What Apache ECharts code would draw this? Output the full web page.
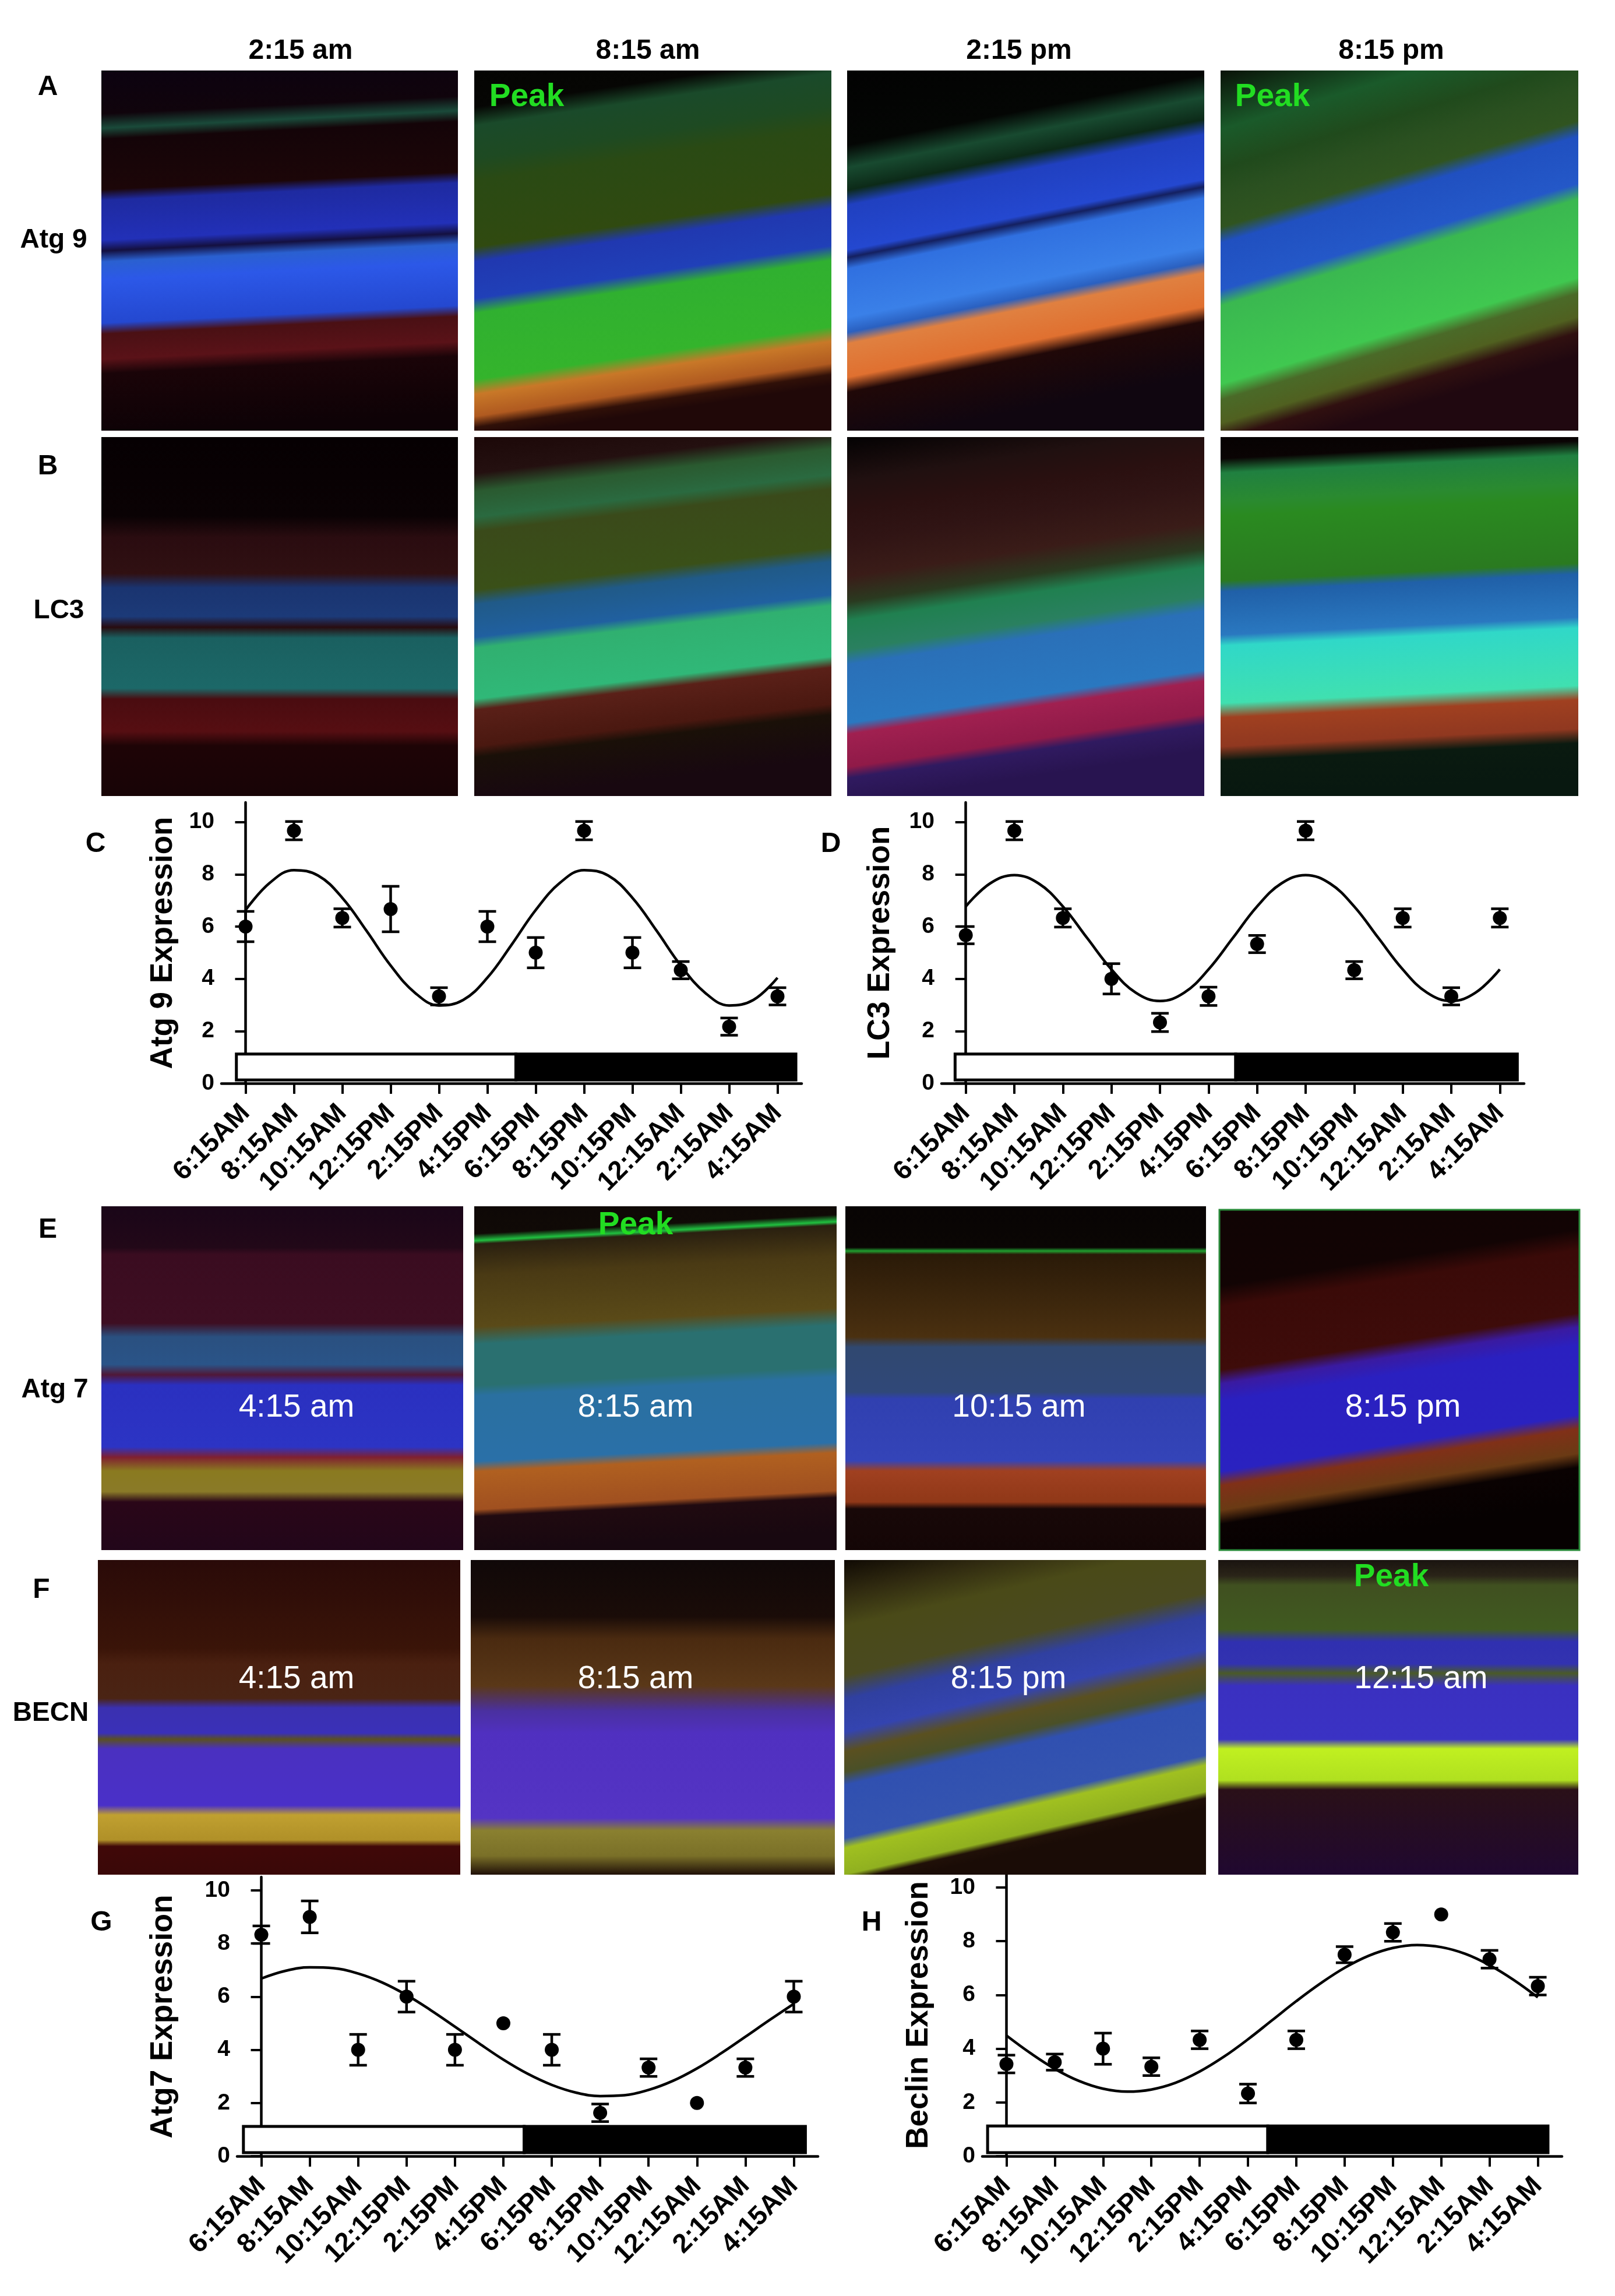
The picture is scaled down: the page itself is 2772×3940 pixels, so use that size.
<!DOCTYPE html>
<html>
<head>
<meta charset="utf-8">
<script src="https://cdn.jsdelivr.net/npm/echarts@6/dist/echarts.min.js"></script>
<style>
html,body{margin:0;padding:0;background:#ffffff;}
#main{width:2772px;height:3940px;}
</style>
</head>
<body>
<div id="main"></div>
<script>
// ---------------- DATA ----------------
const categories = ['6:15AM','8:15AM','10:15AM','12:15PM','2:15PM','4:15PM','6:15PM','8:15PM','10:15PM','12:15AM','2:15AM','4:15AM'];
const yTicks = [0, 2, 4, 6, 8, 10];
// positions (in category-index units) where the fitted curve was read
const curveX = [0,0.5,1,1.5,2,2.5,3,3.5,4,4.5,5,5.5,6,6.5,7,7.5,8,8.5,9,9.5,10,10.5,11];

// C: Atg 9
const atg9Mean  = [6.0, 9.67, 6.33, 6.67, 3.33, 6.0, 5.0, 9.67, 5.0, 4.33, 2.17, 3.33];
const atg9Err   = [0.58, 0.35, 0.35, 0.87, 0.33, 0.58, 0.58, 0.35, 0.58, 0.33, 0.33, 0.33];
const atg9Curve = [6.63,7.67,8.16,7.95,7.10,5.84,4.51,3.47,2.98,3.19,4.04,5.30,6.63,7.67,8.16,7.95,7.10,5.84,4.51,3.47,2.98,3.19,4.04];

// D: LC3
const lc3Mean  = [5.67, 9.67, 6.33, 4.0, 2.33, 3.33, 5.33, 9.67, 4.33, 6.33, 3.33, 6.33];
const lc3Err   = [0.33, 0.35, 0.35, 0.58, 0.35, 0.35, 0.33, 0.35, 0.33, 0.35, 0.33, 0.35];
const lc3Curve = [6.77,7.65,7.97,7.65,6.77,5.56,4.36,3.47,3.15,3.47,4.36,5.56,6.77,7.65,7.97,7.65,6.77,5.56,4.36,3.47,3.15,3.47,4.36];

// G: Atg7
const atg7Mean  = [8.33, 9.0, 4.0, 6.0, 4.0, 5.0, 4.0, 1.63, 3.33, 2.0, 3.33, 6.0];
const atg7Err   = [0.33, 0.6, 0.58, 0.58, 0.58, 0, 0.58, 0.33, 0.33, 0, 0.33, 0.58];
const atg7Curve = [6.68,6.97,7.10,7.07,6.87,6.53,6.06,5.49,4.87,4.24,3.63,3.10,2.68,2.39,2.26,2.29,2.49,2.83,3.30,3.87,4.49,5.12,5.73];

// H: Beclin
const beclinMean  = [3.43, 3.5, 4.0, 3.33, 4.33, 2.33, 4.33, 7.5, 8.33, 9.0, 7.33, 6.33];
const beclinErr   = [0.33, 0.3, 0.58, 0.33, 0.33, 0.35, 0.33, 0.3, 0.33, 0, 0.33, 0.33];
const beclinCurve = [4.49,3.83,3.25,2.80,2.51,2.40,2.48,2.73,3.15,3.70,4.35,5.06,5.77,6.43,7.01,7.46,7.75,7.86,7.78,7.53,7.11,6.56,5.91];

// light / dark periods, in category-index units: [start, end]
const atg9Phases   = [[-0.19, 5.59], [5.59, 11.38]];
const lc3Phases    = [[-0.22, 5.56], [5.56, 11.36]];
const atg7Phases   = [[-0.37, 5.43], [5.43, 11.24]];
const beclinPhases = [[-0.39, 5.41], [5.41, 11.21]];
const barLevels = [0.13, 1.12];

// text content
const columnTimes = ['2:15 am', '8:15 am', '2:15 pm', '8:15 pm'];
const rowEtimes = ['4:15 am', '8:15 am', '10:15 am', '8:15 pm'];
const rowFtimes = ['4:15 am', '8:15 am', '8:15 pm', '12:15 am'];

// ---------------- LAYOUT / STYLE ----------------
const FONT = '"Liberation Sans", Arial, Helvetica, sans-serif';

const chartLayouts = [
  {grid:{left:380, top:1377, width:996, height:482}, max:10.75, name:'Atg 9 Expression', gap:73, mean:atg9Mean, err:atg9Err, curve:atg9Curve, phases:atg9Phases},
  {grid:{left:1616, top:1377, width:1000, height:482}, max:10.75, name:'LC3 Expression', gap:78, mean:lc3Mean, err:lc3Err, curve:lc3Curve, phases:lc3Phases},
  {grid:{left:407, top:3221, width:997, height:479}, max:10.5, name:'Atg7 Expression', gap:100, mean:atg7Mean, err:atg7Err, curve:atg7Curve, phases:atg7Phases},
  {grid:{left:1686, top:3216, width:995, height:484}, max:10.5, name:'Beclin Expression', gap:82, mean:beclinMean, err:beclinErr, curve:beclinCurve, phases:beclinPhases}
];

function lg(tilt, stops){
  return {type:'linear', x:0, y:0, x2:tilt, y2:1, global:false,
    colorStops: stops.map(s => ({offset:s[0], color:s[1]}))};
}

const panels = [
  // Row A
  {x:174, y:121, w:612, h:618, tilt:0.05, stops:[[0,'#0c0210'],[0.12,'#10040c'],[0.16,'#1a4a3a'],[0.19,'#140408'],[0.33,'#1c0608'],[0.36,'#1e2aa0'],[0.47,'#2230b8'],[0.5,'#141040'],[0.53,'#2a60d0'],[0.58,'#2c58e8'],[0.7,'#2448d0'],[0.73,'#4a1014'],[0.8,'#5a1218'],[0.84,'#1a0408'],[1,'#0e0206']]},
  {x:814, y:121, w:613, h:618, tilt:0.15, stops:[[0,'#040402'],[0.1,'#060604'],[0.15,'#1a4a2a'],[0.24,'#1e4a22'],[0.3,'#2a4a14'],[0.48,'#304a10'],[0.52,'#2038b0'],[0.62,'#2040b8'],[0.66,'#30b030'],[0.84,'#34b42c'],[0.88,'#c87828'],[0.94,'#b05a20'],[0.97,'#301008'],[1,'#200808']]},
  {x:1454, y:121, w:613, h:618, tilt:0.2, stops:[[0,'#020202'],[0.2,'#040604'],[0.26,'#184a30'],[0.32,'#0c2a18'],[0.36,'#2040c0'],[0.48,'#2448d0'],[0.5,'#142060'],[0.53,'#3070e0'],[0.66,'#3a80e8'],[0.7,'#2a60c0'],[0.73,'#e08040'],[0.82,'#e07030'],[0.86,'#200808'],[1,'#100610']]},
  {x:2095, y:121, w:614, h:618, tilt:0.3, stops:[[0,'#0a1208'],[0.15,'#1a5a2a'],[0.25,'#204a1c'],[0.32,'#2a5020'],[0.4,'#305420'],[0.44,'#2050c0'],[0.56,'#2458c8'],[0.6,'#3ab850'],[0.8,'#40c850'],[0.84,'#4a6a28'],[0.9,'#506020'],[0.94,'#301010'],[1,'#200810']]},
  // Row B
  {x:174, y:750, w:612, h:616, tilt:0, stops:[[0,'#060002'],[0.22,'#0a0204'],[0.28,'#2a0c10'],[0.38,'#301012'],[0.42,'#1a3470'],[0.5,'#1c3a78'],[0.53,'#280c10'],[0.56,'#1a6060'],[0.7,'#1c6868'],[0.73,'#4a0c10'],[0.82,'#560e12'],[0.86,'#1e0406'],[1,'#180406']]},
  {x:814, y:750, w:613, h:616, tilt:0.12, stops:[[0,'#1c0808'],[0.1,'#241010'],[0.15,'#2a5a30'],[0.22,'#2a6a40'],[0.26,'#3a4a1a'],[0.42,'#3a5018'],[0.46,'#205a88'],[0.55,'#2060a0'],[0.58,'#30b070'],[0.72,'#30b878'],[0.75,'#5a2018'],[0.85,'#4a1810'],[0.88,'#1a1008'],[1,'#180810']]},
  {x:1454, y:750, w:613, h:616, tilt:0.15, stops:[[0,'#040203'],[0.12,'#201010'],[0.2,'#2a1010'],[0.28,'#301414'],[0.38,'#3a1c18'],[0.45,'#2a3a20'],[0.5,'#208050'],[0.58,'#2a8060'],[0.62,'#2a70b8'],[0.78,'#2a78c0'],[0.81,'#a02050'],[0.9,'#901a48'],[0.93,'#301a60'],[1,'#281450']]},
  {x:2095, y:750, w:614, h:616, tilt:0.05, stops:[[0,'#060202'],[0.06,'#0a0404'],[0.1,'#208040'],[0.18,'#2a8a30'],[0.22,'#2a8a20'],[0.4,'#2a7a20'],[0.43,'#2060a8'],[0.55,'#2a78c0'],[0.58,'#30d8c8'],[0.74,'#40e0b0'],[0.78,'#a04020'],[0.86,'#903820'],[0.9,'#0a1a10'],[1,'#081810']]},
  // Row E
  {x:174, y:2070, w:621, h:590, tilt:0, stops:[[0,'#1a0618'],[0.12,'#220818'],[0.14,'#3a0c20'],[0.34,'#3e0e22'],[0.38,'#2a5080'],[0.46,'#2a5488'],[0.49,'#501838'],[0.52,'#2a30c0'],[0.7,'#2c34c4'],[0.73,'#802030'],[0.77,'#8a7a20'],[0.83,'#8a7a28'],[0.86,'#2a0618'],[1,'#22061a']]},
  {x:814, y:2070, w:622, h:590, tilt:0.05, stops:[[0,'#0e0806'],[0.08,'#100a06'],[0.1,'#20c040'],[0.11,'#2a2010'],[0.2,'#4a3a14'],[0.35,'#5a4a18'],[0.4,'#2a7070'],[0.52,'#2a7070'],[0.55,'#2a70a0'],[0.74,'#2a70a8'],[0.77,'#b06020'],[0.88,'#a05020'],[0.9,'#200a10'],[1,'#180810']]},
  {x:1451, y:2070, w:619, h:590, tilt:0, stops:[[0,'#080404'],[0.12,'#0a0604'],[0.13,'#20a030'],[0.14,'#2a1a08'],[0.38,'#4a3010'],[0.41,'#304870'],[0.54,'#304878'],[0.56,'#3040b0'],[0.74,'#3444b8'],[0.77,'#a04020'],[0.86,'#903818'],[0.88,'#180808'],[1,'#140606']]},
  {x:2093, y:2076, w:618, h:584, tilt:0.15, stroke:'#2a8a3a', stops:[[0,'#100404'],[0.22,'#120404'],[0.28,'#3a0a08'],[0.46,'#3e0c0a'],[0.5,'#3a1aa0'],[0.55,'#2a20c0'],[0.75,'#2a22c0'],[0.79,'#803018'],[0.86,'#6a3a14'],[0.9,'#0a0202'],[1,'#060101']]},
  // Row F
  {x:168, y:2677, w:622, h:540, tilt:0, stops:[[0,'#2a0a08'],[0.28,'#3a1408'],[0.33,'#4a2010'],[0.44,'#4a2414'],[0.47,'#3a30b0'],[0.55,'#3a30b8'],[0.57,'#5a5020'],[0.6,'#4a30c0'],[0.78,'#4a30c8'],[0.81,'#c0a030'],[0.89,'#b09028'],[0.91,'#400808'],[1,'#3a0808']]},
  {x:808, y:2677, w:625, h:540, tilt:0, stops:[[0,'#100808'],[0.18,'#1a0c08'],[0.25,'#4a2a10'],[0.4,'#5a3818'],[0.48,'#4a30a0'],[0.55,'#5030c0'],[0.82,'#5434c4'],[0.86,'#8a8030'],[0.94,'#7a7028'],[1,'#201008']]},
  {x:1449, y:2677, w:621, h:540, tilt:0.2, stops:[[0,'#100a04'],[0.1,'#302a10'],[0.2,'#4a4a18'],[0.35,'#4a4a20'],[0.42,'#3040a0'],[0.52,'#3444b0'],[0.58,'#5a5020'],[0.64,'#4a5028'],[0.68,'#3050b0'],[0.84,'#3454b0'],[0.87,'#a0c020'],[0.95,'#90b020'],[0.97,'#201008'],[1,'#1a0c06']]},
  {x:2091, y:2677, w:618, h:540, tilt:0, stops:[[0,'#1a1410'],[0.05,'#2a2418'],[0.08,'#405020'],[0.22,'#405a20'],[0.26,'#3030b0'],[0.33,'#3232b0'],[0.36,'#4a5a28'],[0.4,'#3a30c0'],[0.57,'#3a32c4'],[0.6,'#c0f020'],[0.7,'#b0e020'],[0.73,'#2a1018'],[1,'#200830']]}
];

function txt(text, x, y, size, weight, color){
  return {type:'text', x:x, y:y, z:10, silent:true,
    style:{text:text, fill:color || '#000', font: (weight||'bold') + ' ' + size + 'px ' + FONT,
      align:'center', verticalAlign:'middle', textAlign:'center', textVerticalAlign:'middle'}};
}

const graphics = [];
panels.forEach(p => {
  const st = {fill:lg(p.tilt, p.stops)};
  if (p.stroke) { st.stroke = p.stroke; st.lineWidth = 3; }
  graphics.push({type:'rect', silent:true, z:1, shape:{x:p.x, y:p.y, width:p.w, height:p.h}, style:st});
});
// column headers
const headerX = [516, 1112, 1749, 2388];
columnTimes.forEach((t, i) => graphics.push(txt(t, headerX[i], 88, 48, 'bold', '#000')));
// panel letters and row labels
graphics.push(txt('A', 82, 150, 48));
graphics.push(txt('Atg 9', 92, 412, 46));
graphics.push(txt('B', 82, 801, 48));
graphics.push(txt('LC3', 101, 1048, 46));
graphics.push(txt('C', 164, 1449, 48));
graphics.push(txt('D', 1426, 1449, 48));
graphics.push(txt('E', 82, 2111, 48));
graphics.push(txt('Atg 7', 94, 2385, 46));
graphics.push(txt('F', 71, 2729, 48));
graphics.push(txt('BECN', 87, 2940, 46));
graphics.push(txt('G', 174, 3300, 48));
graphics.push(txt('H', 1496, 3300, 48));
// Peak markers
graphics.push(txt('Peak', 904, 167, 55, 'bold', '#22dd22'));
graphics.push(txt('Peak', 2184, 167, 55, 'bold', '#22dd22'));
graphics.push(txt('Peak', 1091, 2103, 55, 'bold', '#22dd22'));
graphics.push(txt('Peak', 2388, 2707, 55, 'bold', '#22dd22'));
// time stamps in rows E and F
const rowEx = [509, 1091, 1749, 2408];
const rowFx = [509, 1091, 1731, 2439];
rowEtimes.forEach((t, i) => graphics.push(txt(t, rowEx[i], 2416, 55, 'normal', '#ffffff')));
rowFtimes.forEach((t, i) => graphics.push(txt(t, rowFx[i], 2882, 55, 'normal', '#ffffff')));

// ---------------- CHARTS ----------------
function renderErr(params, api){
  const x = api.value(0), lo = api.value(1), hi = api.value(2);
  if (!(hi - lo > 0)) return null;
  const a = api.coord([x, lo]);
  const b = api.coord([x, hi]);
  const cap = 15;
  const st = {stroke:'#000', lineWidth:4.5};
  return {type:'group', children:[
    {type:'line', shape:{x1:a[0], y1:a[1], x2:b[0], y2:b[1]}, style:st},
    {type:'line', shape:{x1:a[0]-cap, y1:a[1], x2:a[0]+cap, y2:a[1]}, style:st},
    {type:'line', shape:{x1:b[0]-cap, y1:b[1], x2:b[0]+cap, y2:b[1]}, style:st}
  ]};
}
function renderBar(params, api){
  const p0 = api.coord([api.value(0), api.value(3)]);
  const p1 = api.coord([api.value(1), api.value(2)]);
  return {type:'rect', shape:{x:p0[0], y:p0[1], width:p1[0]-p0[0], height:p1[1]-p0[1]},
    style:{fill: params.dataIndex === 0 ? '#ffffff' : '#000000', stroke:'#000', lineWidth:5}};
}

const grids = [], xAxes = [], yAxes = [], series = [];
chartLayouts.forEach((c, k) => {
  grids.push(Object.assign({containLabel:false, outerBoundsMode:'none'}, c.grid));
  const catIdx = xAxes.length;
  xAxes.push({
    type:'category', gridIndex:k, data:categories, boundaryGap:true,
    axisLine:{show:true, onZero:false, lineStyle:{color:'#000', width:4.5}},
    axisTick:{show:true, alignWithLabel:true, length:18, lineStyle:{color:'#000', width:4}},
    axisLabel:{interval:0, rotate:45, margin:44, color:'#000', fontSize:46, fontWeight:'bold', fontFamily:FONT},
    splitLine:{show:false}
  });
  const valIdx = xAxes.length;
  xAxes.push({type:'value', gridIndex:k, min:-0.5, max:11.5, show:false, splitLine:{show:false}});
  yAxes.push({
    type:'value', gridIndex:k, min:0, max:c.max, interval:2,
    name:c.name, nameLocation:'middle', nameGap:c.gap, nameRotate:90,
    nameTextStyle:{color:'#000', fontSize:53, fontWeight:'bold', fontFamily:FONT},
    axisLine:{show:true, lineStyle:{color:'#000', width:4.5}},
    axisTick:{show:true, length:18, lineStyle:{color:'#000', width:4}, customValues:yTicks},
    axisLabel:{show:true, margin:12, color:'#000', fontSize:39, fontWeight:'bold', fontFamily:FONT, customValues:yTicks,
      formatter: v => (yTicks.indexOf(v) >= 0 ? String(v) : '')},
    splitLine:{show:false}
  });
  series.push({
    type:'custom', name:'light/dark', xAxisIndex:valIdx, yAxisIndex:k, renderItem:renderBar, z:1,
    encode:{x:[0,1], y:[2,3]},
    data: c.phases.map(p => [p[0], p[1], barLevels[0], barLevels[1]])
  });
  series.push({
    type:'line', name:'fit', xAxisIndex:valIdx, yAxisIndex:k, smooth:0.4, symbol:'none', z:2,
    lineStyle:{color:'#000', width:4.5},
    data: curveX.map((x, i) => [x, c.curve[i]])
  });
  series.push({
    type:'custom', name:'SEM', xAxisIndex:catIdx, yAxisIndex:k, renderItem:renderErr, z:3,
    encode:{x:0, y:[1,2]},
    data: c.mean.map((m, i) => [i, m - c.err[i], m + c.err[i]])
  });
  series.push({
    type:'scatter', name:'mean', xAxisIndex:catIdx, yAxisIndex:k, symbol:'circle', symbolSize:24, z:4,
    itemStyle:{color:'#000', opacity:1},
    data: c.mean
  });
});

const chart = echarts.init(document.getElementById('main'), null, {renderer:'canvas', width:2772, height:3940});
chart.setOption({
  backgroundColor:'#ffffff',
  animation:false,
  grid:grids,
  xAxis:xAxes,
  yAxis:yAxes,
  series:series,
  graphic:graphics
});
</script>
</body>
</html>
